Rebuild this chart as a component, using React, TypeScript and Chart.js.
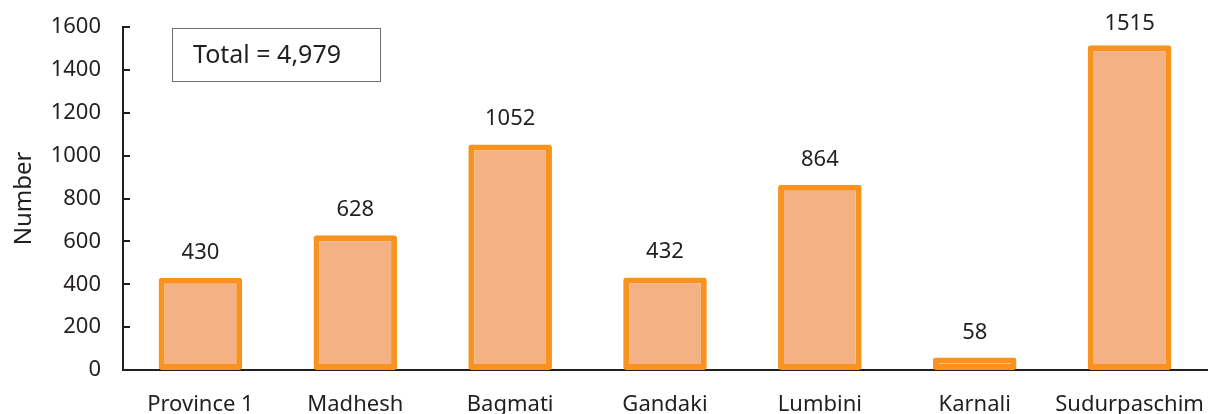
import React, { useEffect, useRef } from "react";
import { Chart, registerables } from "chart.js";

Chart.register(...registerables);

const categories = ["Province 1", "Madhesh", "Bagmati", "Gandaki", "Lumbini", "Karnali", "Sudurpaschim"];
const values = [430, 628, 1052, 432, 864, 58, 1515];
const yTicks = [0, 200, 400, 600, 800, 1000, 1200, 1400, 1600];
const totalLabel = "Total = 4,979";

const FONT = "'Noto Sans', 'Open Sans', sans-serif";
const TEXT = "#231F20";

const overlayPlugin = {
  id: "overlay",
  afterDraw(chart: any) {
    const { ctx, chartArea, scales } = chart;
    const y = scales.y;
    ctx.save();
    ctx.strokeStyle = TEXT;
    ctx.lineWidth = 2;
    yTicks.forEach((t) => {
      const py = Math.round(y.getPixelForValue(t));
      if (t === 0) return;
      ctx.beginPath();
      ctx.moveTo(chartArea.left, py);
      ctx.lineTo(chartArea.left + 7, py);
      ctx.stroke();
    });
    const meta = chart.getDatasetMeta(0);
    ctx.fillStyle = TEXT;
    ctx.font = `22px ${FONT}`;
    ctx.textAlign = "center";
    ctx.textBaseline = "alphabetic";
    meta.data.forEach((bar: any, i: number) => {
      ctx.fillText(String(values[i]), bar.x, Math.max(bar.y - 19, 30));
    });
    ctx.strokeStyle = "#6D6E71";
    ctx.lineWidth = 1;
    ctx.strokeRect(172.5, 28.5, 208, 53);
    ctx.font = `25px ${FONT}`;
    ctx.textAlign = "left";
    ctx.textBaseline = "middle";
    ctx.fillText(totalLabel, 193, 56);
    ctx.restore();
  },
};

export default function App() {
  const ref = useRef<HTMLCanvasElement>(null);
  useEffect(() => {
    if (!ref.current) return;
    const chart = new Chart(ref.current, {
      type: "bar",
      data: {
        labels: categories,
        datasets: [
          {
            data: values,
            backgroundColor: "#F4B183",
            borderColor: "#F7931E",
            borderWidth: 6,
            borderRadius: 3,
            borderSkipped: false,
            barPercentage: 0.54,
            categoryPercentage: 1,
          },
        ],
      },
      options: {
        animation: false,
        responsive: false,
        maintainAspectRatio: false,
        layout: { padding: { top: 27, right: 4, left: 0, bottom: 0 } },
        plugins: { legend: { display: false }, tooltip: { enabled: false } },
        scales: {
          x: {
            grid: { display: false, drawTicks: false },
            border: { color: TEXT, width: 2 },
            ticks: { color: TEXT, font: { family: FONT, size: 22 }, padding: 22, maxRotation: 0 },
            afterFit(scale: any) {
              scale.height = 44;
              scale.paddingLeft = 0;
              scale.paddingRight = 0;
            },
          },
          y: {
            min: 0,
            max: 1600,
            afterBuildTicks(scale: any) {
              scale.ticks = yTicks.map((v) => ({ value: v }));
            },
            grid: { display: false, drawTicks: false },
            border: { color: TEXT, width: 2 },
            ticks: {
              color: TEXT,
              font: { family: FONT, size: 22 },
              padding: 22,
              callback: (v: any) => String(v),
            },
            title: {
              display: true,
              text: "Number",
              color: TEXT,
              font: { family: FONT, size: 24 },
              padding: { top: 10, bottom: 0 },
            },
            afterFit(scale: any) {
              scale.width = 123;
              scale.paddingTop = 0;
              scale.paddingBottom = 0;
            },
          },
        },
      },
      plugins: [overlayPlugin],
    });
    return () => chart.destroy();
  }, []);
  return (
    <div style={{ position: "fixed", left: 0, top: 0, width: 1211, height: 414, background: "#fff" }}>
      <canvas ref={ref} width={1211} height={414} style={{ display: "block" }} />
    </div>
  );
}
